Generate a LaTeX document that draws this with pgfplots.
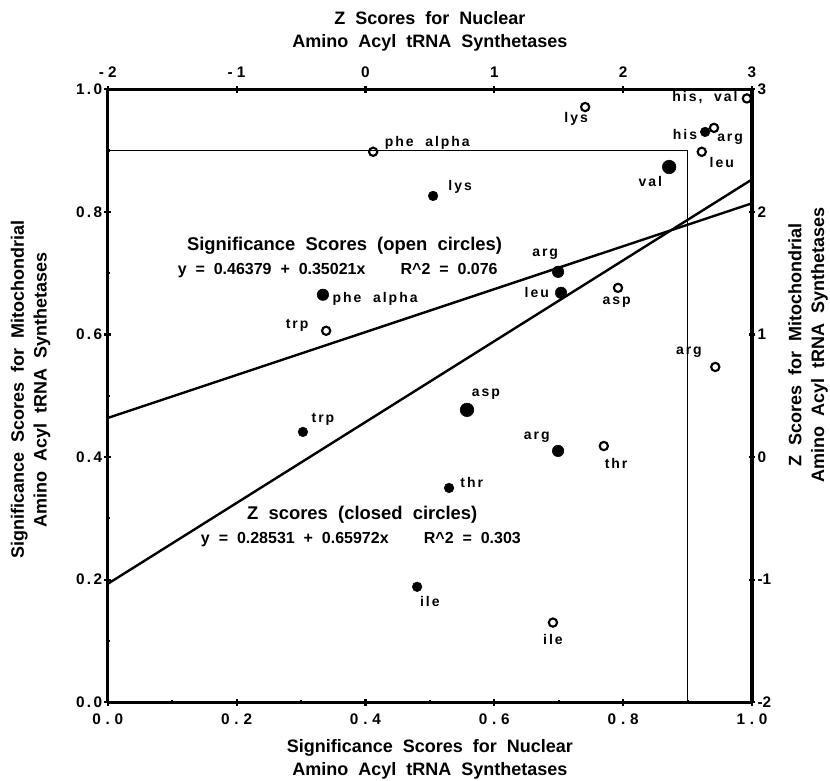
\documentclass[border=0pt]{standalone}
\usepackage{fontspec}
\setmainfont{Liberation Sans}
\newfontfamily\lblfont[LetterSpace=14]{Liberation Sans}
\newfontfamily\widefont[WordSpace=2]{Liberation Sans}
\usepackage{pgfplots}
\pgfplotsset{compat=1.18}

\pgfplotsset{
  frame/.style={
    scale only axis, width=483.2pt, height=459.75pt,
    tick align=outside,
    major tick length=5pt, minor tick length=3pt,
    tick style={line width=1.6pt, black},
    ticklabel style={font=\bfseries\fontsize{11.5}{13}\selectfont, inner sep=1.5pt},
    clip=true,
  },
  nolines/.style={
    axis line style={-, line width=2.4pt},
    every outer x axis line/.append style={-},
    every outer y axis line/.append style={-},
  },
}
\tikzset{
  lbl/.style={font=\lblfont\bfseries\fontsize{10.5}{12}\selectfont, inner sep=0pt},
  axlbl/.style={font=\widefont\bfseries\fontsize{13.5}{17}\selectfont, align=center, anchor=center},
}
\newcommand{\bt}[2]{#1\kern3.6pt.\kern3.6pt#2}
\newcommand{\lt}[2]{#1\kern1.8pt.\kern1.8pt#2}

\begin{document}
\begin{tikzpicture}
\useasboundingbox (-80.8pt,-59pt) rectangle (541.7pt,526.7pt);

% significance scores: bottom and left axes
\begin{axis}[frame,
  xmin=0, xmax=1, ymin=0, ymax=1,
  axis x line=bottom, axis y line=left, nolines,
  xtick={0,0.2,0.4,0.6,0.8,1},
  xticklabels={\bt00,\bt02,\bt04,\bt06,\bt08,\bt10},
  xticklabel style={yshift=-4.5pt},
  minor xtick={0.1,0.3,0.5,0.7,0.9},
  ytick={0,0.2,0.4,0.6,0.8,1},
  yticklabels={\lt00,\lt02,\lt04,\lt06,\lt08,\lt10},
  minor ytick={0.1,0.3,0.5,0.7,0.9},
  xlabel={Significance Scores for Nuclear\\Amino Acyl tRNA Synthetases},
  xlabel style={axlbl, at={(axis description cs:0.5,-0.0933)}},
  ylabel={Significance Scores for Mitochondrial\\Amino Acyl tRNA Synthetases},
  ylabel style={axlbl, at={(axis description cs:-0.1196,0.51)}},
]
% cut-off lines at 0.9
\addplot[black, line width=0.8pt] coordinates {(0,0.9) (0.9,0.9) (0.9,0)};
% regression, open circles
\addplot[black, line width=1.8pt] coordinates {(0,0.46379) (1,0.81400)};
% open circles
\addplot[only marks, mark=o, mark size=3.1pt, mark options={line width=1.6pt, black}] coordinates {
  (0.992,0.985) (0.741,0.971) (0.941,0.937) (0.922,0.898) (0.412,0.898)
  (0.792,0.676) (0.339,0.606) (0.943,0.547) (0.770,0.418) (0.691,0.130)
};
% open circle labels
\node[lbl] at (axis cs:0.927,0.987) {his,\ \ val};
\node[lbl] at (axis cs:0.727,0.952) {lys};
\node[lbl] at (axis cs:0.966,0.919) {arg};
\node[lbl] at (axis cs:0.953,0.881) {leu};
\node[lbl] at (axis cs:0.496,0.912) {phe\ \ alpha};
\node[lbl] at (axis cs:0.790,0.652) {asp};
\node[lbl] at (axis cs:0.294,0.615) {trp};
\node[lbl] at (axis cs:0.902,0.571) {arg};
\node[lbl] at (axis cs:0.789,0.390) {thr};
\node[lbl] at (axis cs:0.691,0.102) {ile};
% closed circle labels
\node[lbl] at (axis cs:0.896,0.927) {his};
\node[lbl] at (axis cs:0.842,0.850) {val};
\node[lbl] at (axis cs:0.547,0.841) {lys};
\node[lbl] at (axis cs:0.415,0.658) {phe\ \ alpha};
\node[lbl] at (axis cs:0.679,0.731) {arg};
\node[lbl] at (axis cs:0.666,0.668) {leu};
\node[lbl] at (axis cs:0.334,0.462) {trp};
\node[lbl] at (axis cs:0.587,0.503) {asp};
\node[lbl] at (axis cs:0.666,0.433) {arg};
\node[lbl] at (axis cs:0.565,0.359) {thr};
\node[lbl] at (axis cs:0.500,0.164) {ile};
% regression texts
\node[font=\widefont\bfseries\fontsize{13.8}{15}\selectfont] at (axis cs:0.3675,0.744) {Significance Scores (open circles)};
\node[font=\widefont\bfseries\fontsize{12}{13}\selectfont] at (axis cs:0.357,0.705) {y = 0.46379 + 0.35021x\hspace{2.2em}R\textasciicircum 2 = 0.076};
\node[font=\widefont\bfseries\fontsize{13.8}{15}\selectfont] at (axis cs:0.395,0.306) {Z scores (closed circles)};
\node[font=\widefont\bfseries\fontsize{12}{13}\selectfont] at (axis cs:0.393,0.265) {y = 0.28531 + 0.65972x\hspace{2.2em}R\textasciicircum 2 = 0.303};
\end{axis}

% Z scores: top and right axes
\begin{axis}[frame,
  xmin=-2, xmax=3, ymin=-2, ymax=3,
  axis x line=top, axis y line=right, nolines,
  xtick={-2,-1,0,1,2,3},
  xticklabels={- 2,- 1,0,1,2,3},
  xticklabel style={yshift=4.5pt},
  ytick={-2,-1,0,1,2,3},
  yticklabels={-2,-1,0,1,2,3},
  xlabel={Z Scores for Nuclear\\Amino Acyl tRNA Synthetases},
  xlabel style={axlbl, at={(axis description cs:0.5,1.094)}},
  ylabel={Z Scores for Mitochondrial\\Amino Acyl tRNA Synthetases},
  ylabel style={axlbl, at={(axis description cs:1.087,0.583)}},
]
% regression, closed circles
\addplot[black, line width=1.8pt] coordinates {(-2,-1.03413) (3,2.26447)};
% closed circles
\addplot[only marks, mark=*, mark size=3.6pt, black] coordinates {
  (2.636,2.652) (0.525,2.130) (-0.485,0.205) (0.649,-0.252) (0.401,-1.058)
};
\addplot[only marks, mark=*, mark size=4.3pt, black] coordinates {
  (-0.330,1.324) (1.495,1.511) (1.518,1.340) (1.495,0.050)
};
\addplot[only marks, mark=*, mark size=5.1pt, black] coordinates {
  (2.357,2.366) (0.788,0.385)
};
\end{axis}
\end{tikzpicture}
\end{document}
